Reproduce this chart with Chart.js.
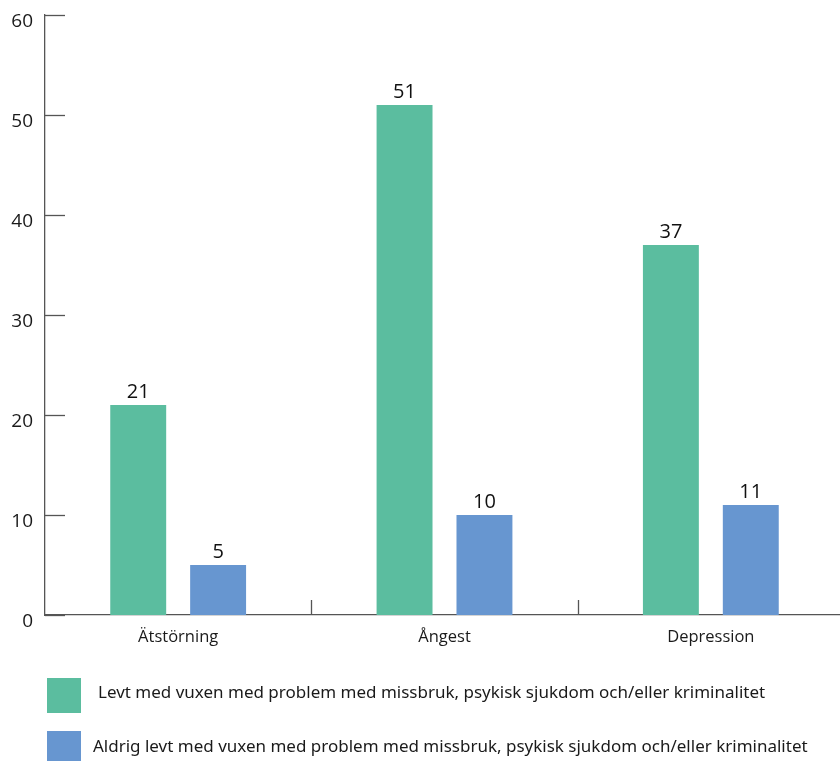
<!DOCTYPE html>
<html><head><meta charset="utf-8">
<script src="https://cdn.jsdelivr.net/npm/chart.js@4"></script>
<style>
html,body{margin:0;padding:0;background:#fff;overflow:hidden;}
#wrap{position:relative;width:848px;height:761px;}
.box{position:absolute;left:47px;width:34px;}
.leg{position:absolute;font-family:"Noto Sans",sans-serif;font-size:17px;color:#1a1a1a;white-space:nowrap;line-height:20px;}
</style></head>
<body>
<div id="wrap">
<canvas id="c"></canvas>
<div class="box" style="top:678px;height:35px;background:#5BBD9F"></div>
<div class="leg" id="l1" style="left:98px;top:682px;"></div>
<div class="box" style="top:731px;height:35px;background:#6796D0"></div>
<div class="leg" id="l2" style="left:93px;top:736px;"></div>
</div>
<script>
const categories = ["Ätstörning", "Ångest", "Depression"];
const seriesNames = [
  "Levt med vuxen med problem med missbruk, psykisk sjukdom och/eller kriminalitet",
  "Aldrig levt med vuxen med problem med missbruk, psykisk sjukdom och/eller kriminalitet"
];
const levtValues = [21, 51, 37];
const aldrigValues = [5, 10, 11];
const yTicks = [0, 10, 20, 30, 40, 50, 60];
const colors = ["#5BBD9F", "#6796D0"];

document.getElementById('l1').textContent = seriesNames[0];
document.getElementById('l2').textContent = seriesNames[1];

const customTicks = {
  id: 'customTicks',
  afterDatasetsDraw(chart) {
    const {ctx, chartArea: a, scales: {x, y}} = chart;
    ctx.save();
    ctx.strokeStyle = '#555';
    ctx.lineWidth = 1.3;
    y.ticks.forEach((t, i) => {
      const py = Math.round(y.getPixelForTick(i)) + 0.5;
      ctx.beginPath(); ctx.moveTo(a.left, py); ctx.lineTo(a.left + 20, py); ctx.stroke();
    });
    for (let i = 1; i < categories.length; i++) {
      const px = Math.round((x.getPixelForTick(i - 1) + x.getPixelForTick(i)) / 2) + 0.5;
      ctx.beginPath(); ctx.moveTo(px, a.bottom); ctx.lineTo(px, a.bottom - 15); ctx.stroke();
    }
    ctx.fillStyle = '#111';
    ctx.font = '20px "Open Sans", sans-serif';
    ctx.textAlign = 'center';
    ctx.textBaseline = 'alphabetic';
    chart.data.datasets.forEach((ds, di) => {
      const meta = chart.getDatasetMeta(di);
      meta.data.forEach((el, i) => {
        ctx.fillText(String(ds.data[i]), el.x, el.y - 7);
      });
    });
    ctx.restore();
  }
};

new Chart(document.getElementById('c'), {
  type: 'bar',
  data: {
    labels: categories,
    datasets: [
      {label: seriesNames[0], data: levtValues, backgroundColor: colors[0], barPercentage: 0.7, categoryPercentage: 0.6},
      {label: seriesNames[1], data: aldrigValues, backgroundColor: colors[1], barPercentage: 0.7, categoryPercentage: 0.6}
    ]
  },
  options: {
    responsive: true,
    maintainAspectRatio: false,
    animation: false,
    layout: {padding: {top: 15, right: 4, bottom: 106, left: 0}},
    plugins: {legend: {display: false}, tooltip: {enabled: false}},
    scales: {
      x: {
        grid: {display: false, drawTicks: false},
        border: {display: true, color: '#555', width: 1.3},
        ticks: {padding: 12, color: '#1a1a1a', font: {family: '"Open Sans", sans-serif', size: 16.5}},
        afterFit(s) { s.height = 40; s.paddingLeft = 0; s.paddingRight = 0; }
      },
      y: {
        min: 0, max: 60,
        grid: {display: false, drawTicks: false},
        border: {display: true, color: '#555', width: 1.3},
        afterBuildTicks(s) { s.ticks = yTicks.map(v => ({value: v})); },
        ticks: {padding: 12, labelOffset: 7, color: '#1a1a1a', font: {family: '"Open Sans", sans-serif', size: 19}},
        afterFit(s) { s.width = 45; s.paddingTop = 0; s.paddingBottom = 0; }
      }
    }
  },
  plugins: [customTicks]
});
</script>
</body></html>
